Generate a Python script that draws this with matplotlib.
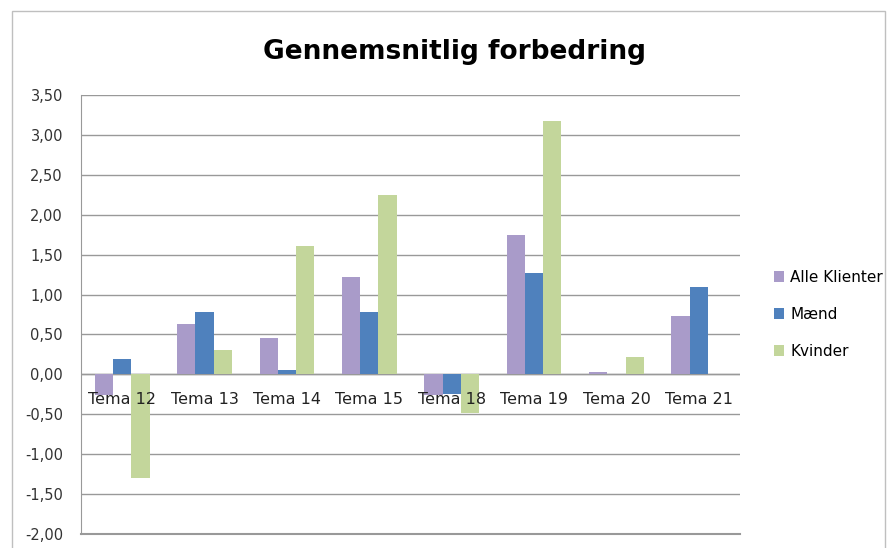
import matplotlib.pyplot as plt
import numpy as np
from matplotlib.patches import Rectangle

# Average improvement per theme
categories = ["Tema 12", "Tema 13", "Tema 14", "Tema 15", "Tema 18", "Tema 19", "Tema 20", "Tema 21"]
series_names = ["Alle Klienter", "Mænd", "Kvinder"]
alle = [-0.26, 0.63, 0.45, 1.22, -0.26, 1.75, 0.03, 0.73]
maend = [0.19, 0.78, 0.05, 0.78, -0.25, 1.27, 0.0, 1.09]
kvinder = [-1.30, 0.31, 1.61, 2.25, -0.49, 3.17, 0.22, 0.0]
colors = ["#A99BC9", "#4F81BD", "#C3D69B"]
yticks = [3.5, 3.0, 2.5, 2.0, 1.5, 1.0, 0.5, 0.0, -0.5, -1.0, -1.5, -2.0]

fig = plt.figure(figsize=(8.92, 5.48), dpi=100)
ax = fig.add_axes([0.0908, 0.0255, 0.7388, 0.8011])

# outer chart frame
fig.patches.append(Rectangle((0.013, -0.01), 0.979, 0.99, transform=fig.transFigure,
                             fill=False, edgecolor="#BFBFBF", linewidth=1))

x = np.arange(len(categories))
w = 0.222
for i, (vals, name) in enumerate(zip([alle, maend, kvinder], series_names)):
    ax.bar(x + (i - 1) * w, vals, width=w, color=colors[i], label=name, zorder=3)

ax.set_xlim(-0.5, len(categories) - 0.5)
ax.set_ylim(-2.0, 3.5)
ax.set_yticks(yticks)
ax.set_yticklabels([f"{v:.2f}".replace(".", ",") for v in yticks], fontsize=10.5, color="#333333")
ax.tick_params(axis="y", length=0, pad=13)
ax.set_xticks([])

ax.grid(axis="y", color="#999999", linewidth=1, zorder=0)
for side in ["top", "right", "bottom"]:
    ax.spines[side].set_visible(False)
ax.spines["left"].set_color("#999999")
ax.axhline(0, color="#999999", linewidth=1, zorder=2)
ax.axhline(-2.0, color="#999999", linewidth=1.5, zorder=2, clip_on=False)

# category labels sit just below the zero line
for xi, lab in zip(x, categories):
    ax.text(xi, -0.32, lab, ha="center", va="center", fontsize=11.5, color="#222222", zorder=4)

fig.text(0.51, 0.905, "Gennemsnitlig forbedring", ha="center", va="center",
         fontsize=19, fontweight="bold")

ax.legend(loc="center left", bbox_to_anchor=(1.03, 0.50), frameon=False, fontsize=11,
          handlelength=0.7, handleheight=0.7, handletextpad=0.4, labelspacing=1.45)

fig.savefig("out.png", dpi=100)
